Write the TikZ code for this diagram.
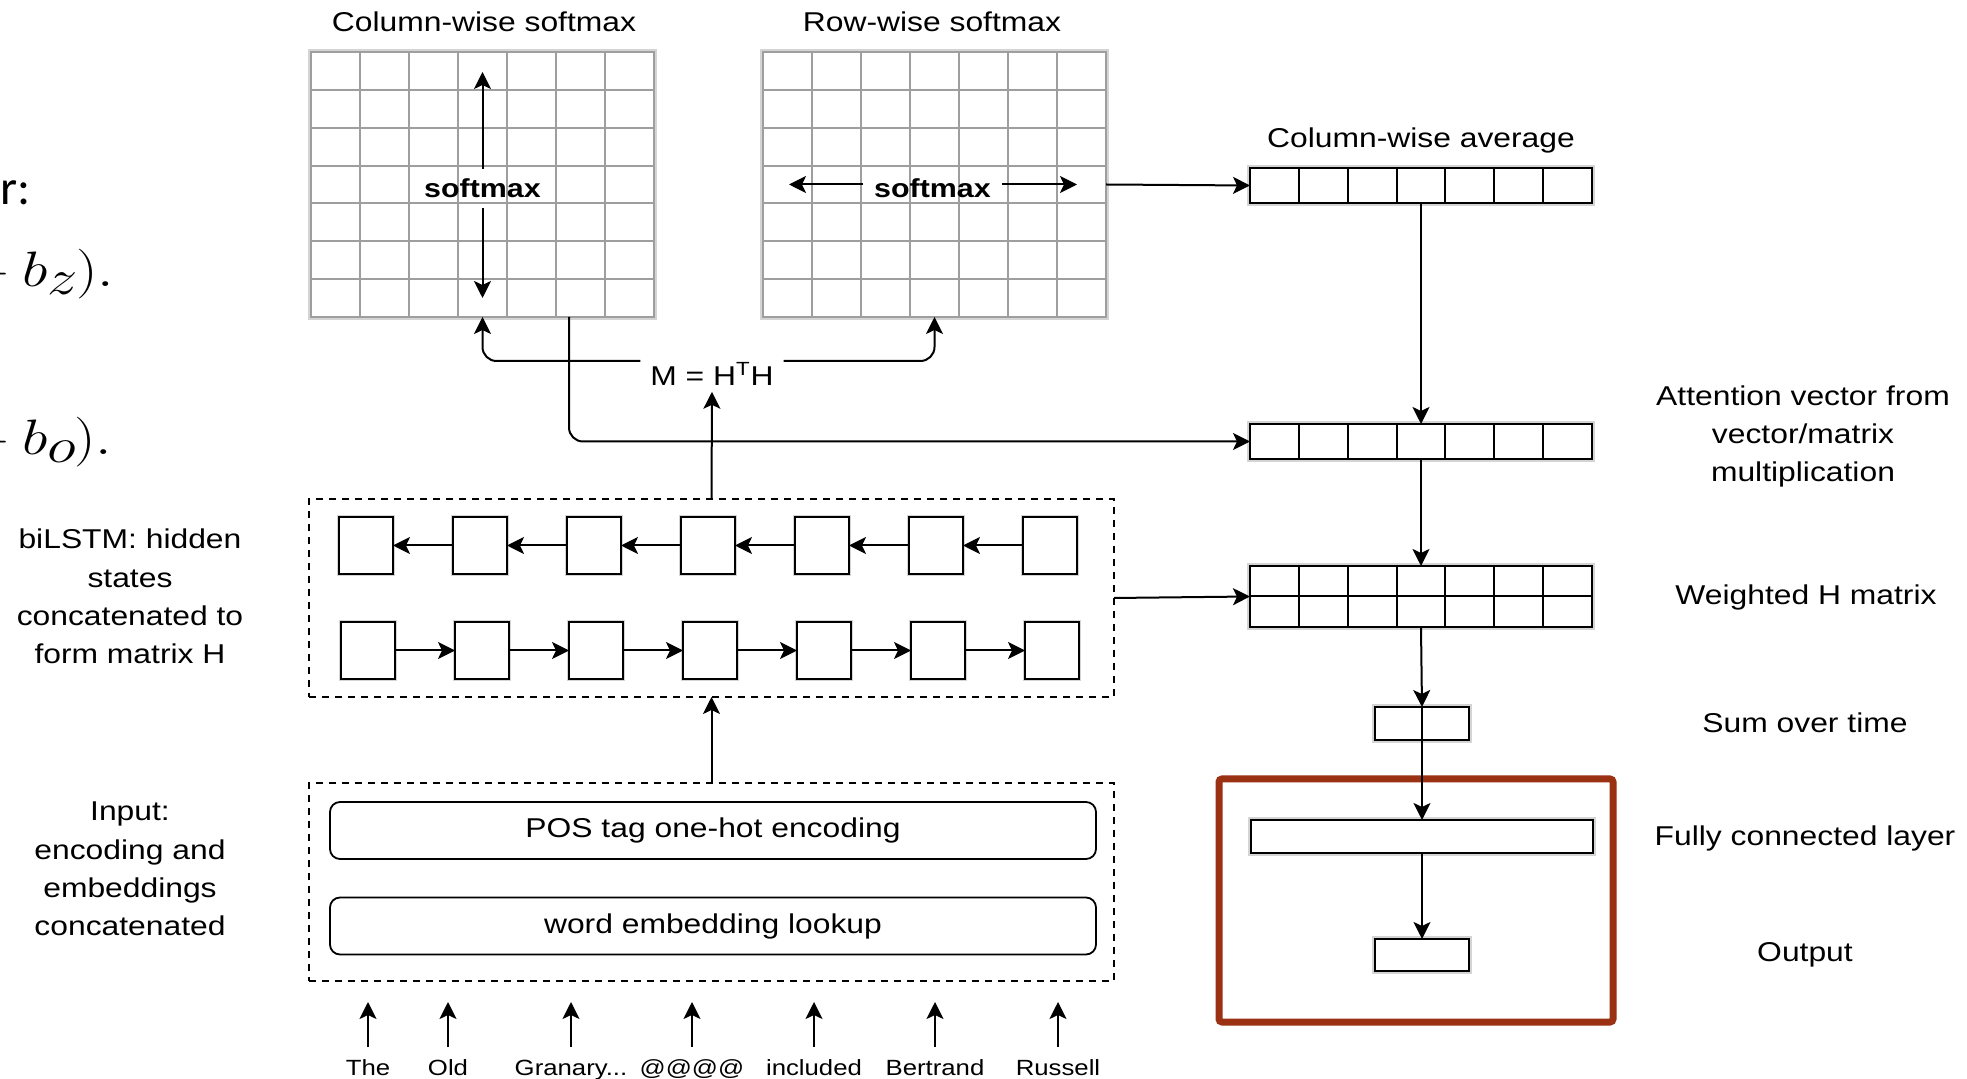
\documentclass[tikz,border=0pt]{standalone}
\usepackage{graphicx}
\usepackage{fontspec}
\setmainfont{Liberation Sans}[FakeStretch=1.17]
\newfontfamily\slidefont{Carlito}
\usetikzlibrary{arrows.meta,calc}
\definecolor{gridc}{HTML}{9E9E9E}
\definecolor{haloc}{HTML}{D4D4D4}
\definecolor{redc}{HTML}{9B3113}
\begin{document}
\begin{tikzpicture}[x=0.5pt,y=-0.5pt,
  every node/.append style={outer sep=0pt},
  arr/.style={-{Stealth[length=8.5pt,width=8.5pt,inset=2pt]}, line width=1pt},
  lbl/.style={font=\fontsize{13.6}{19.2}\selectfont, inner sep=0pt, align=center},
  gmat/.style={draw=gridc, line width=1pt, fill=white, minimum width=171.5pt, minimum height=132.5pt, inner sep=0pt, preaction={draw=haloc, line width=2.6pt}},
  gline/.style={draw=gridc, line width=1pt},
  vline/.style={draw=black, line width=1pt},
  vecbox/.style={draw=black, line width=1pt, fill=white, inner sep=0pt, preaction={draw=haloc, line width=2.6pt}},
  cell/.style={draw=black, line width=1pt, fill=white, minimum width=27pt, minimum height=28.5pt, inner sep=0pt, preaction={draw=haloc, line width=2pt}},
  cont/.style={draw=black, line width=0.75pt, dash pattern=on 3.5pt off 3pt, minimum width=402.5pt, minimum height=99pt, inner sep=0pt},
  rbox/.style={draw=black, line width=0.9pt, rounded corners=5pt, minimum width=383pt, minimum height=28.5pt, inner sep=0pt, font=\fontsize{13.6}{16}\selectfont},
  word/.style={font=\fontsize{11}{13}\selectfont, inner sep=0pt, anchor=base},
  smx/.style={font=\bfseries\fontsize{13}{15}\selectfont, inner xsep=5.5pt, inner ysep=5pt},
]
\fill[white] (0,0) rectangle (1967,1079);
\useasboundingbox (0,0) rectangle (1967,1079);

% clipped slide fragments at the left edge
\begin{scope}
\clip (0,0) rectangle (1967,1079);
\node[font=\slidefont\fontsize{24.5}{28}\selectfont, anchor=base west, inner sep=0pt] (frag1) at (0,205) {r:};
\node[font=\fontsize{26}{30}\selectfont, anchor=base west, inner sep=0pt] (frag2) at (-48,287) {\scalebox{1.22}[1]{${}+b_{\textstyle z}\mkern-1mu).$}};
\node[font=\fontsize{26}{30}\selectfont, anchor=base west, inner sep=0pt] (frag3) at (-48,455) {\scalebox{1.22}[1]{${}+b_{\textstyle o}\mkern-1mu).$}};
\end{scope}

% titles and side labels
\node[lbl, anchor=base] (t1) at (484,32) {Column-wise softmax};
\node[lbl, anchor=base] (t2) at (932,32) {Row-wise softmax};
\node[lbl, anchor=base] (t3) at (1421,148) {Column-wise average};
\node[lbl] (t4) at (1803,436.5) {Attention vector from\\vector/matrix\\multiplication};
\node[lbl, anchor=base] (t5) at (1806,605) {Weighted H matrix};
\node[lbl, anchor=base] (t6) at (1805,733) {Sum over time};
\node[lbl, anchor=base] (t7) at (1805,846) {Fully connected layer};
\node[lbl, anchor=base] (t8) at (1805,962) {Output};
\node[lbl] (t9) at (130,596.5) {biLSTM: hidden\\states\\concatenated to\\form matrix H};
\node[lbl] (t10) at (130,869) {Input:\\encoding and\\embeddings\\concatenated};

% softmax matrices
\node[gmat] (colmat) at (482.5,184.5) {};
\node[gmat] (rowmat) at (934.5,184.5) {};
\foreach \k in {1,...,6} {
  \draw[gline] ($(colmat.north west)+(\k*49,0)$) -- ($(colmat.south west)+(\k*49,0)$);
  \draw[gline] ($(colmat.north west)+(0,\k*37.857)$) -- ($(colmat.north east)+(0,\k*37.857)$);
  \draw[gline] ($(rowmat.north west)+(\k*49,0)$) -- ($(rowmat.south west)+(\k*49,0)$);
  \draw[gline] ($(rowmat.north west)+(0,\k*37.857)$) -- ($(rowmat.north east)+(0,\k*37.857)$);
}
\node[smx] (sm1) at (482.5,188.5) {softmax};
\node[smx] (sm2) at (932.5,188.5) {softmax};
\coordinate (cu) at (482.5,72);
\coordinate (cd) at (482.5,298);
\coordinate (rl) at (789,184.5);
\coordinate (rr) at (1077,184.5);
\draw[arr] (sm1.north) -- (cu);
\draw[arr] (sm1.south) -- (cd);
\draw[arr] ([yshift=2pt]sm2.west) -- (rl);
\draw[arr] ([yshift=2pt]sm2.east) -- (rr);

% M = H^T H
\node[lbl, inner xsep=5pt, inner ysep=3pt] (M) at (712,374) {M = H\textsuperscript{T}H};

% vectors on the right
\node[vecbox, minimum width=171pt, minimum height=17.5pt] (avg) at (1421,185.5) {};
\node[vecbox, minimum width=171pt, minimum height=17.5pt] (att) at (1421,441.5) {};
\node[vecbox, minimum width=171pt, minimum height=30.5pt] (wH) at (1421,596.5) {};
\foreach \k in {1,...,6} {
  \draw[vline] ($(avg.north west)+(\k*48.857,0)$) -- ($(avg.south west)+(\k*48.857,0)$);
  \draw[vline] ($(att.north west)+(\k*48.857,0)$) -- ($(att.south west)+(\k*48.857,0)$);
  \draw[vline] ($(wH.north west)+(\k*48.857,0)$) -- ($(wH.south west)+(\k*48.857,0)$);
}
\draw[vline] (wH.west) -- (wH.east);
\node[draw=redc, line width=3.5pt, rounded corners=1.5pt, minimum width=197pt, minimum height=121.5pt, inner sep=0pt] (redbox) at (1416,900.5) {};
\node[vecbox, minimum width=47pt, minimum height=16.5pt] (sum) at (1422,723.5) {};
\node[vecbox, minimum width=171pt, minimum height=16.5pt] (fc) at (1422,836.5) {};
\node[vecbox, minimum width=47pt, minimum height=16pt] (out) at (1422,955) {};

% biLSTM container
\node[cont] (bil) at (711.5,598) {};
\foreach \i in {0,...,6} {
  \node[cell] (b\i) at ({366+114*\i},545.5) {};
  \node[cell] (f\i) at ({368+114*\i},650.5) {};
}
\foreach \i [evaluate=\i as \j using int(\i+1)] in {0,...,5} {
  \draw[arr] (b\j.west) -- (b\i.east);
  \draw[arr] (f\i.east) -- (f\j.west);
}

% input container
\node[cont] (inp) at (711.5,882) {};
\node[rbox] (pos) at (713,830.5) {POS tag one-hot encoding};
\node[rbox] (emb) at (713,926) {word embedding lookup};

% words
\node[word] (w1) at (368,1075) {The};
\node[word] (w2) at (448,1075) {Old};
\node[word] (w3) at (571,1075) {Granary...};
\node[word] (w4) at (692,1075) {@@@@};
\node[word] (w5) at (814,1075) {included};
\node[word] (w6) at (935,1075) {Bertrand};
\node[word] (w7) at (1058,1075) {Russell};
\coordinate (wstart) at (0,1047);
\coordinate (wtip) at (0,1002);
\foreach \n in {1,...,7} {
  \draw[arr] (w\n.north |- wstart) -- (w\n.north |- wtip);
}

% connectors
\draw[arr] (inp.north) -- (bil.south);
\draw[arr] (bil.north) -- (M.south);
\draw[arr, rounded corners=7pt] ([yshift=6.5pt]M.west) -| (colmat.south);
\draw[arr, rounded corners=7pt] ([yshift=6.5pt]M.east) -| (rowmat.south);
\draw[arr, rounded corners=7pt] ($(colmat.south)+(86.5,0)$) |- (att.west);
\draw[arr] (rowmat.east) -- (avg.west);
\draw[arr] (avg.south) -- (att.north);
\draw[arr] (att.south) -- (wH.north);
\draw[arr] (bil.east) -- (wH.west);
\draw[arr] (wH.south) -- (sum.north);
\draw[arr] (sum.north) -- (fc.north);
\draw[arr] (fc.south) -- (out.north);
\end{tikzpicture}
\end{document}
